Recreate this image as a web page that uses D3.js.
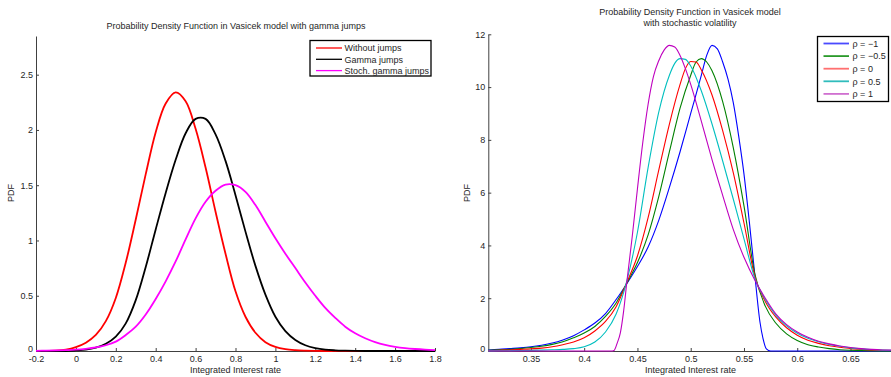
<!DOCTYPE html>
<html>
<head>
<meta charset="utf-8">
<script src="https://cdn.jsdelivr.net/npm/d3@7"></script>
<style>
  body { margin: 0; background: #fff; }
  svg { display: block; font-family: "Liberation Sans", Arial, sans-serif; }
</style>
</head>
<body>
<svg id="chart" width="891" height="377"></svg>
<script>
// ---------- left panel: gamma jumps ----------
const rateGrid = [-0.2, -0.15, -0.1, -0.05, 0, 0.05, 0.1, 0.15, 0.2, 0.25,
  0.3, 0.35, 0.4, 0.45, 0.5, 0.55, 0.6, 0.65, 0.7, 0.75,
  0.8, 0.85, 0.9, 0.95, 1.0, 1.05, 1.1, 1.15, 1.2, 1.25,
  1.3, 1.35, 1.4, 1.45, 1.5, 1.55, 1.6, 1.65, 1.7, 1.75, 1.8];
const withoutJumps = [0, 0.001, 0.003, 0.012, 0.035, 0.075, 0.145, 0.27, 0.48, 0.8,
  1.19, 1.6, 1.98, 2.24, 2.34, 2.26, 2.01, 1.66, 1.26, 0.88,
  0.54, 0.31, 0.165, 0.08, 0.037, 0.016, 0.007, 0.003, 0.001, 0,
  0, 0, 0, 0, 0, 0, 0, 0, 0, 0, 0];
const gammaJumps = [0, 0, 0, 0, 0.005, 0.012, 0.03, 0.065, 0.13, 0.25,
  0.46, 0.76, 1.1, 1.43, 1.73, 1.97, 2.1, 2.1, 1.96, 1.72,
  1.41, 1.08, 0.77, 0.51, 0.31, 0.18, 0.1, 0.052, 0.026, 0.012,
  0.006, 0.003, 0.001, 0, 0, 0, 0, 0, 0, 0, 0];
const stochGammaJumps = [0.002, 0.003, 0.005, 0.008, 0.012, 0.02, 0.032, 0.052, 0.085, 0.145,
  0.22, 0.33, 0.47, 0.63, 0.81, 1.01, 1.2, 1.35, 1.45, 1.505,
  1.5, 1.44, 1.32, 1.17, 1.02, 0.88, 0.75, 0.62, 0.5, 0.39,
  0.3, 0.22, 0.16, 0.115, 0.08, 0.055, 0.038, 0.026, 0.018, 0.012, 0.008];
const jumpNames = ['Without jumps', 'Gamma jumps', 'Stoch. gamma jumps'];
const jumpColors = ['#ff0000', '#000000', '#ff00ff'];
const leftXTicks = [-0.2, 0, 0.2, 0.4, 0.6, 0.8, 1, 1.2, 1.4, 1.6, 1.8];
const leftYTicks = [0, 0.5, 1, 1.5, 2, 2.5];

// ---------- right panel: stochastic volatility, [rate, pdf] ----------
const rhoMinus1 = [[0.31, 0.04], [0.32, 0.06], [0.33, 0.09], [0.34, 0.12], [0.35, 0.16], [0.36, 0.22],
  [0.37, 0.3], [0.38, 0.42], [0.39, 0.58], [0.40, 0.8], [0.41, 1.06], [0.42, 1.42], [0.43, 1.95],
  [0.44, 2.55], [0.45, 3.2], [0.46, 3.94], [0.47, 4.95], [0.48, 6.2], [0.49, 7.55], [0.50, 9.0],
  [0.51, 10.45], [0.515, 11.2], [0.52, 11.58], [0.525, 11.45], [0.53, 10.95], [0.535, 10.3],
  [0.54, 9.4], [0.545, 8.15], [0.55, 6.7], [0.555, 4.9], [0.56, 2.95], [0.565, 1.1], [0.568, 0.45],
  [0.571, 0.08], [0.575, 0], [0.69, 0]];
const rhoMinusHalf = [[0.31, 0.03], [0.32, 0.045], [0.33, 0.06], [0.34, 0.09], [0.35, 0.13], [0.36, 0.18],
  [0.37, 0.25], [0.38, 0.35], [0.39, 0.5], [0.40, 0.68], [0.41, 0.93], [0.42, 1.31], [0.43, 1.82],
  [0.44, 2.57], [0.45, 3.35], [0.46, 4.4], [0.47, 5.85], [0.48, 7.55], [0.49, 9.2], [0.50, 10.45],
  [0.505, 10.95], [0.51, 11.08], [0.515, 10.95], [0.52, 10.62], [0.53, 9.45], [0.54, 7.7], [0.55, 5.5],
  [0.56, 2.95], [0.57, 1.7], [0.58, 1.05], [0.59, 0.65], [0.60, 0.4], [0.61, 0.24], [0.62, 0.15],
  [0.63, 0.09], [0.64, 0.05], [0.65, 0.03], [0.66, 0.02], [0.67, 0.01], [0.68, 0.005], [0.69, 0.002]];
const rhoZero = [[0.31, 0.02], [0.32, 0.03], [0.33, 0.04], [0.34, 0.06], [0.35, 0.08], [0.36, 0.11],
  [0.37, 0.16], [0.38, 0.24], [0.39, 0.34], [0.40, 0.5], [0.41, 0.76], [0.42, 1.12], [0.43, 1.68],
  [0.44, 2.6], [0.45, 3.6], [0.46, 5.05], [0.47, 6.85], [0.48, 8.6], [0.49, 10.1], [0.495, 10.7],
  [0.50, 10.97], [0.505, 10.95], [0.51, 10.65], [0.52, 9.7], [0.53, 8.35], [0.54, 6.75], [0.55, 4.85],
  [0.56, 2.85], [0.57, 1.88], [0.58, 1.28], [0.59, 0.88], [0.60, 0.6], [0.61, 0.41], [0.62, 0.29],
  [0.63, 0.2], [0.64, 0.14], [0.65, 0.09], [0.66, 0.06], [0.67, 0.04], [0.68, 0.025], [0.69, 0.015]];
const rhoHalf = [[0.31, 0.005], [0.32, 0.008], [0.33, 0.012], [0.34, 0.017], [0.35, 0.024], [0.36, 0.033],
  [0.37, 0.045], [0.38, 0.06], [0.39, 0.09], [0.40, 0.16], [0.41, 0.34], [0.42, 0.72], [0.43, 1.4],
  [0.44, 2.65], [0.45, 4.5], [0.46, 6.95], [0.47, 9.05], [0.48, 10.45], [0.485, 10.9], [0.49, 11.08],
  [0.495, 11.05], [0.50, 10.8], [0.51, 9.85], [0.52, 8.6], [0.53, 7.2], [0.54, 5.75], [0.55, 4.25],
  [0.56, 2.78], [0.57, 1.95], [0.58, 1.35], [0.59, 0.95], [0.60, 0.67], [0.61, 0.48], [0.62, 0.35],
  [0.63, 0.25], [0.64, 0.18], [0.65, 0.12], [0.66, 0.08], [0.67, 0.055], [0.68, 0.035], [0.69, 0.022]];
const rhoOne = [[0.31, 0], [0.425, 0], [0.428, 0.02], [0.431, 0.3], [0.434, 0.7], [0.437, 1.5],
  [0.44, 2.6], [0.445, 4.3], [0.45, 6.15], [0.455, 7.9], [0.46, 9.35], [0.465, 10.4], [0.47, 11.0],
  [0.475, 11.4], [0.48, 11.58], [0.485, 11.52], [0.49, 11.2], [0.495, 10.7], [0.50, 10.1], [0.51, 8.7],
  [0.52, 7.25], [0.53, 5.9], [0.54, 4.6], [0.55, 3.55], [0.56, 2.7], [0.57, 2.0], [0.58, 1.4],
  [0.59, 1.0], [0.60, 0.72], [0.61, 0.52], [0.62, 0.37], [0.63, 0.27], [0.64, 0.19], [0.65, 0.13],
  [0.66, 0.09], [0.67, 0.06], [0.68, 0.04], [0.69, 0.03]];
const rhoNames = ['ρ = −1', 'ρ = −0.5', 'ρ = 0', 'ρ = 0.5', 'ρ = 1'];
const rhoColors = ['#0000ff', '#008000', '#ff0000', '#00bfbf', '#bf00bf'];
const rhoLegendColors = ['#4a4aff', '#2a9a2a', '#ff7070', '#30bcbc', '#d070d0'];
const rightXTicks = [0.35, 0.4, 0.45, 0.5, 0.55, 0.6, 0.65];
const rightYTicks = [0, 2, 4, 6, 8, 10, 12];

const svg = d3.select('#chart');
const ink = '#262626';

//------------- one MATLAB-like panel -------------
function drawPanel(p) {
  const x = d3.scaleLinear().domain(p.xDomain).range(p.xRange);
  const y = d3.scaleLinear().domain(p.yDomain).range(p.yRange);
  const g = svg.append('g');

  const gx = g.append('g')
    .attr('transform', `translate(0,${p.yRange[0]})`)
    .call(d3.axisBottom(x).tickValues(p.xTicks).tickSize(-3).tickSizeOuter(0)
      .tickPadding(5).tickFormat(d => String(d)));
  const gy = g.append('g')
    .attr('transform', `translate(${p.xRange[0]},0)`)
    .call(d3.axisLeft(y).tickValues(p.yTicks).tickSize(-3).tickSizeOuter(0)
      .tickPadding(3).tickFormat(d => String(d)));
  [gx, gy].forEach(a => {
    a.selectAll('path, line').attr('stroke', '#404040');
    a.selectAll('text').attr('fill', ink).style('font-size', '9px')
      .style('font-family', '"Liberation Sans", Arial, sans-serif');
  });
  // lift the y "0" a little so it clears the first x label, as in the original
  gy.selectAll('.tick').filter(d => d === 0).select('text').attr('dy', '0.1em');

  // curves
  const line = d3.line()
    .x(d => x(d[0]))
    .y(d => y(d[1]))
    .curve(p.curve);
  p.series.forEach((s, i) => {
    g.append('path')
      .attr('d', line(s))
      .attr('fill', 'none')
      .attr('stroke', p.colors[i])
      .attr('stroke-width', p.lineWidth)
      .attr('stroke-linejoin', 'round');
  });

  // title + labels
  p.title.forEach((t, i) => {
    g.append('text').attr('x', p.titleX).attr('y', p.titleY + i * 11)
      .attr('text-anchor', 'middle').attr('fill', ink)
      .style('font-size', '9px').text(t);
  });
  g.append('text').attr('x', p.xLabelX).attr('y', 373)
    .attr('text-anchor', 'middle').attr('fill', ink)
    .style('font-size', '9px').text('Integrated Interest rate');
  g.append('text')
    .attr('transform', `translate(${p.yLabelX},193) rotate(-90)`)
    .attr('text-anchor', 'middle').attr('fill', ink)
    .style('font-size', '9px').text('PDF');

  // legend
  const L = p.legend;
  g.append('rect')
    .attr('x', L.x).attr('y', L.y).attr('width', L.w).attr('height', L.h)
    .attr('fill', '#fff').attr('stroke', '#000').attr('stroke-width', 1.3);
  p.names.forEach((n, i) => {
    const cy = L.y + L.first + i * L.step;
    g.append('line')
      .attr('x1', L.x + L.lineFrom).attr('x2', L.x + L.lineTo)
      .attr('y1', cy).attr('y2', cy)
      .attr('stroke', L.colors[i]).attr('stroke-width', L.lineW);
    g.append('text')
      .attr('x', L.x + L.textX).attr('y', cy + 3.2)
      .attr('fill', ink).style('font-size', '9px').text(n);
  });
}

drawPanel({
  xDomain: [-0.2, 1.8], xRange: [36, 435],
  yDomain: [0, 2.85], yRange: [351, 36],
  xTicks: leftXTicks, yTicks: leftYTicks,
  series: [withoutJumps, gammaJumps, stochGammaJumps]
    .map(v => v.map((d, i) => [rateGrid[i], d])),
  colors: jumpColors, lineWidth: 1.8,
  curve: d3.curveCatmullRom.alpha(0.5),
  title: ['Probability Density Function in Vasicek model with gamma jumps'],
  titleX: 236, titleY: 29,
  xLabelX: 235.5, yLabelX: 14,
  names: jumpNames,
  legend: { x: 310, y: 40.5, w: 121, h: 35.5, first: 7.5, step: 11.3,
    lineFrom: 6, lineTo: 32, textX: 34.5, lineW: 1.3, colors: jumpColors }
});

drawPanel({
  xDomain: [0.31, 0.688], xRange: [488.3, 891],
  yDomain: [0, 12], yRange: [351, 34.3],
  xTicks: rightXTicks, yTicks: rightYTicks,
  series: [rhoMinus1, rhoMinusHalf, rhoZero, rhoHalf, rhoOne],
  colors: rhoColors, lineWidth: 1.1,
  curve: d3.curveMonotoneX,
  title: ['Probability Density Function in Vasicek model', 'with stochastic volatility'],
  titleX: 690, titleY: 14.5,
  xLabelX: 690.5, yLabelX: 469.5,
  names: rhoNames,
  legend: { x: 817.5, y: 36.5, w: 71, h: 65, first: 7, step: 12.6,
    lineFrom: 6, lineTo: 31.5, textX: 35, lineW: 1.8, colors: rhoLegendColors }
});
</script>
</body>
</html>
